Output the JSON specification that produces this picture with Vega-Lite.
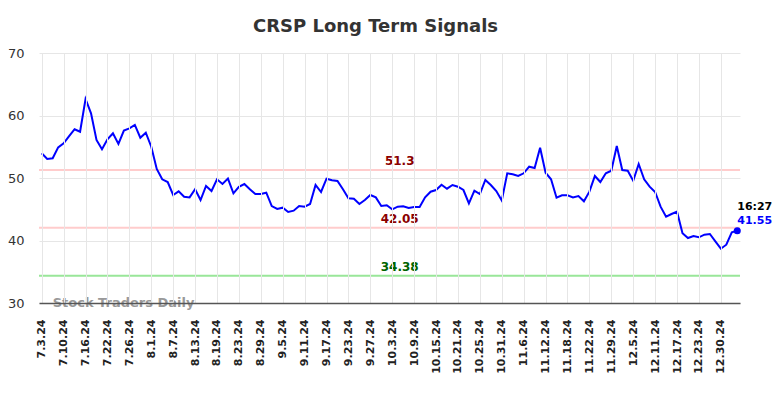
{
  "$schema": "https://vega.github.io/schema/vega-lite/v6.json",
  "width": 701,
  "height": 250,
  "autosize": "none",
  "padding": {"left": 39, "top": 53, "right": 44, "bottom": 95},
  "background": "white",
  "title": {"text": "CRSP Long Term Signals", "fontSize": 18, "font": "DejaVu Sans", "fontWeight": "bold", "color": "#333333", "anchor": "middle", "offset": 11, "dx": -14},
  "config": {"view": {"stroke": null}, "font": "DejaVu Sans"},
  "datasets": {
    "signal": [
      {"d":"7.3.24","v":53.95},{"d":"7.5.24","v":53.04},{"d":"7.8.24","v":53.15},{"d":"7.9.24","v":54.9},{"d":"7.10.24","v":55.55},
      {"d":"7.11.24","v":56.7},{"d":"7.12.24","v":57.8},{"d":"7.15.24","v":57.4},{"d":"7.16.24","v":62.64},{"d":"7.17.24","v":60.35},
      {"d":"7.18.24","v":56.08},{"d":"7.19.24","v":54.6},{"d":"7.22.24","v":56.2},{"d":"7.23.24","v":57.15},{"d":"7.24.24","v":55.45},
      {"d":"7.25.24","v":57.6},{"d":"7.26.24","v":57.95},{"d":"7.29.24","v":58.5},{"d":"7.30.24","v":56.45},{"d":"7.31.24","v":57.25},
      {"d":"8.1.24","v":55.0},{"d":"8.2.24","v":51.44},{"d":"8.5.24","v":49.79},{"d":"8.6.24","v":49.36},{"d":"8.7.24","v":47.28},
      {"d":"8.8.24","v":47.87},{"d":"8.9.24","v":47.0},{"d":"8.12.24","v":46.9},{"d":"8.13.24","v":48.19},{"d":"8.14.24","v":46.48},
      {"d":"8.15.24","v":48.72},{"d":"8.16.24","v":47.92},{"d":"8.19.24","v":49.79},{"d":"8.20.24","v":49.04},{"d":"8.21.24","v":49.9},
      {"d":"8.22.24","v":47.55},{"d":"8.23.24","v":48.6},{"d":"8.26.24","v":49.04},{"d":"8.27.24","v":48.19},{"d":"8.28.24","v":47.44},
      {"d":"8.29.24","v":47.44},{"d":"8.30.24","v":47.65},{"d":"9.3.24","v":45.5},{"d":"9.4.24","v":45.04},{"d":"9.5.24","v":45.25},
      {"d":"9.6.24","v":44.56},{"d":"9.9.24","v":44.77},{"d":"9.10.24","v":45.52},{"d":"9.11.24","v":45.41},{"d":"9.12.24","v":45.84},
      {"d":"9.13.24","v":48.88},{"d":"9.16.24","v":47.76},{"d":"9.17.24","v":49.89},{"d":"9.18.24","v":49.63},{"d":"9.19.24","v":49.52},
      {"d":"9.20.24","v":48.19},{"d":"9.23.24","v":46.75},{"d":"9.24.24","v":46.69},{"d":"9.25.24","v":45.84},{"d":"9.26.24","v":46.48},
      {"d":"9.27.24","v":47.28},{"d":"9.30.24","v":46.9},{"d":"10.1.24","v":45.52},{"d":"10.2.24","v":45.63},{"d":"10.3.24","v":44.99},
      {"d":"10.4.24","v":45.41},{"d":"10.7.24","v":45.47},{"d":"10.8.24","v":45.2},{"d":"10.9.24","v":45.36},{"d":"10.10.24","v":45.36},
      {"d":"10.11.24","v":46.9},{"d":"10.14.24","v":47.81},{"d":"10.15.24","v":48.08},{"d":"10.16.24","v":48.93},{"d":"10.17.24","v":48.29},
      {"d":"10.18.24","v":48.88},{"d":"10.21.24","v":48.61},{"d":"10.22.24","v":48.08},{"d":"10.23.24","v":45.95},{"d":"10.24.24","v":47.97},
      {"d":"10.25.24","v":47.44},{"d":"10.28.24","v":49.68},{"d":"10.29.24","v":48.88},{"d":"10.30.24","v":47.92},{"d":"10.31.24","v":46.4},
      {"d":"11.1.24","v":50.75},{"d":"11.4.24","v":50.59},{"d":"11.5.24","v":50.32},{"d":"11.6.24","v":50.75},{"d":"11.7.24","v":51.81},
      {"d":"11.8.24","v":51.6},{"d":"11.11.24","v":54.85},{"d":"11.12.24","v":50.85},{"d":"11.13.24","v":49.79},{"d":"11.14.24","v":46.85},
      {"d":"11.15.24","v":47.23},{"d":"11.18.24","v":47.23},{"d":"11.19.24","v":46.9},{"d":"11.20.24","v":47.12},{"d":"11.21.24","v":46.27},
      {"d":"11.22.24","v":47.81},{"d":"11.25.24","v":50.32},{"d":"11.26.24","v":49.36},{"d":"11.27.24","v":50.75},{"d":"11.29.24","v":51.17},
      {"d":"12.2.24","v":55.12},{"d":"12.3.24","v":51.28},{"d":"12.4.24","v":51.17},{"d":"12.5.24","v":49.57},{"d":"12.6.24","v":52.24},
      {"d":"12.9.24","v":49.79},{"d":"12.10.24","v":48.61},{"d":"12.11.24","v":47.76},{"d":"12.12.24","v":45.41},{"d":"12.13.24","v":43.81},
      {"d":"12.16.24","v":44.24},{"d":"12.17.24","v":44.61},{"d":"12.18.24","v":41.15},{"d":"12.19.24","v":40.4},{"d":"12.20.24","v":40.72},
      {"d":"12.23.24","v":40.51},{"d":"12.24.24","v":40.93},{"d":"12.26.24","v":41.04},{"d":"12.27.24","v":39.87},{"d":"12.30.24","v":38.69},
      {"d":"12.31.24","v":39.33},{"d":"1.2.25","v":41.31},{"d":"1.3.25","v":41.55}
    ],
    "levels": [
      {"lv": 51.3, "kind": "resistance"},
      {"lv": 42.05, "kind": "resistance"},
      {"lv": 34.38, "kind": "support"}
    ]
  },
  "layer": [
    {
      "data": {"name": "signal"},
      "mark": {"type": "line", "strokeOpacity": 0},
      "encoding": {
        "x": {
          "field": "d", "type": "ordinal", "sort": null,
          "scale": {"type": "point", "padding": 0.5},
          "axis": {
            "title": null,
            "values": ["7.3.24","7.10.24","7.16.24","7.22.24","7.26.24","8.1.24","8.7.24","8.13.24","8.19.24","8.23.24","8.29.24","9.5.24","9.11.24","9.17.24","9.23.24","9.27.24","10.3.24","10.9.24","10.15.24","10.21.24","10.25.24","10.31.24","11.6.24","11.12.24","11.18.24","11.22.24","11.29.24","12.5.24","12.11.24","12.17.24","12.23.24","12.30.24"],
            "labelAngle": -90, "labelFontSize": 11, "labelFontWeight": "bold", "labelColor": "#222222",
            "labelPadding": 16, "ticks": false, "domain": true, "domainColor": "#555555", "domainWidth": 1.5,
            "grid": true, "gridColor": "#e6e6e6", "gridWidth": 1, "labelOverlap": false, "zindex": 1
          }
        },
        "y": {
          "field": "v", "type": "quantitative",
          "scale": {"domain": [30, 70], "nice": false, "zero": false},
          "axis": {
            "title": null, "values": [30, 40, 50, 60, 70], "labelFontSize": 13, "labelColor": "#333333",
            "labelPadding": 15, "ticks": false, "domain": false, "grid": true, "gridColor": "#e6e6e6", "gridWidth": 1
          }
        }
      }
    },
    {
      "data": {"name": "levels"},
      "mark": {"type": "rule", "strokeWidth": 2},
      "encoding": {
        "y": {"field": "lv", "type": "quantitative"},
        "stroke": {"field": "kind", "type": "nominal", "scale": {"domain": ["resistance", "support"], "range": ["#ffcccc", "#99e699"]}, "legend": null}
      }
    },
    {
      "data": {"name": "signal"},
      "mark": {"type": "line", "color": "#0000ff", "strokeWidth": 2, "interpolate": "linear"},
      "encoding": {
        "x": {"field": "d", "type": "ordinal", "sort": null},
        "y": {"field": "v", "type": "quantitative"}
      }
    },
    {
      "data": {"name": "levels"},
      "mark": {"type": "text", "fontSize": 12, "fontWeight": "bold", "align": "center", "baseline": "alphabetic", "dy": -5, "dx": 2},
      "encoding": {
        "x": {"datum": "10.4.24", "type": "ordinal"},
        "y": {"field": "lv", "type": "quantitative"},
        "text": {"field": "lv", "type": "quantitative", "format": ".2~f"},
        "fill": {"field": "kind", "type": "nominal", "scale": {"domain": ["resistance", "support"], "range": ["#8b0000", "#006400"]}, "legend": null}
      }
    },
    {
      "data": {"values": [{"wm": "Stock Traders Daily"}]},
      "mark": {"type": "text", "fontSize": 13, "fontWeight": "bold", "color": "#999999", "align": "left", "baseline": "alphabetic", "dy": 4},
      "encoding": {
        "x": {"datum": "7.8.24", "type": "ordinal"},
        "y": {"datum": 30, "type": "quantitative"},
        "text": {"field": "wm", "type": "nominal"}
      }
    },
    {
      "data": {"name": "signal"},
      "transform": [{"filter": "datum.d == '1.3.25'"}],
      "layer": [
        {
          "mark": {"type": "circle", "size": 50, "color": "#0000ff", "opacity": 1},
          "encoding": {"x": {"field": "d", "type": "ordinal", "sort": null}, "y": {"field": "v", "type": "quantitative"}}
        },
        {
          "mark": {"type": "text", "fontSize": 11, "fontWeight": "bold", "color": "#0000ff", "align": "left", "baseline": "alphabetic", "dy": -7},
          "encoding": {"x": {"field": "d", "type": "ordinal", "sort": null}, "y": {"field": "v", "type": "quantitative"}, "text": {"field": "v", "type": "quantitative", "format": ".2f"}}
        },
        {
          "mark": {"type": "text", "fontSize": 11, "fontWeight": "bold", "color": "#000000", "align": "left", "baseline": "alphabetic", "dy": -21, "text": "16:27"},
          "encoding": {"x": {"field": "d", "type": "ordinal", "sort": null}, "y": {"field": "v", "type": "quantitative"}}
        }
      ]
    }
  ]
}
